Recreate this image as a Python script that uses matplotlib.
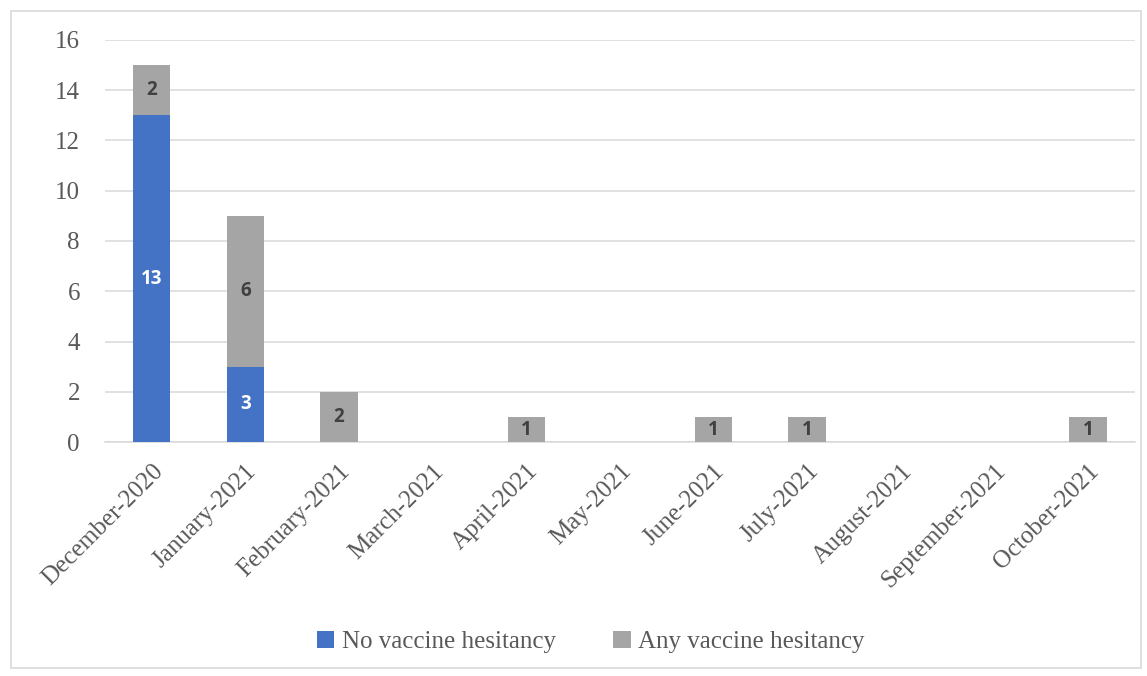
import matplotlib.pyplot as plt
from matplotlib.patches import Rectangle

months = ['December-2020', 'January-2021', 'February-2021', 'March-2021', 'April-2021',
          'May-2021', 'June-2021', 'July-2021', 'August-2021', 'September-2021', 'October-2021']
no_hesitancy = [13, 3, 0, 0, 0, 0, 0, 0, 0, 0, 0]
any_hesitancy = [2, 6, 2, 0, 1, 0, 1, 1, 0, 0, 1]

blue = '#4472C4'
gray = '#A5A5A5'
txt = '#595959'
grid = '#D9D9D9'

fig = plt.figure(figsize=(11.47, 6.76), dpi=100)
ax = fig.add_axes([0.0915, 0.346, 0.898, 0.595])

x = list(range(len(months)))
b1 = ax.bar(x, no_hesitancy, width=0.4, color=blue, label='No vaccine hesitancy', zorder=3)
b2 = ax.bar(x, any_hesitancy, width=0.4, bottom=no_hesitancy, color=gray,
            label='Any vaccine hesitancy', zorder=3)

# data labels, skip zeros
for i in x:
    if no_hesitancy[i]:
        ax.text(i, no_hesitancy[i] / 2, str(no_hesitancy[i]), ha='center', va='center',
                color='white', fontsize=13.5, fontweight='bold', family='Open Sans', zorder=4)
    if any_hesitancy[i]:
        ax.text(i, no_hesitancy[i] + any_hesitancy[i] / 2, str(any_hesitancy[i]),
                ha='center', va='center', color='#404040', fontsize=13.5,
                fontweight='bold', family='Open Sans', zorder=4)

ax.set_xlim(-0.5, len(months) - 0.5)
ax.set_ylim(0, 16)
ax.set_yticks(range(0, 17, 2))
ax.yaxis.grid(True, color=grid, linewidth=1.1, zorder=0)
for s in ['top', 'right', 'left']:
    ax.spines[s].set_visible(False)
ax.spines['bottom'].set_color(grid)
ax.spines['bottom'].set_linewidth(1.1)
ax.tick_params(axis='both', length=0, colors=txt, labelsize=18)
ax.tick_params(axis='y', pad=18)
ax.tick_params(axis='x', pad=13)
ax.set_xticks(x)
ax.set_xticklabels(months, rotation=45, ha='right', rotation_mode='anchor',
                   family='Liberation Serif', fontsize=18)
for lab in ax.get_yticklabels():
    lab.set_family('Liberation Serif')

leg = fig.legend(handles=[b1, b2], loc='center', bbox_to_anchor=(0.515, 0.05), ncol=2,
                 frameon=False, prop={'family': 'Liberation Serif', 'size': 18},
                 handlelength=0.7, handleheight=0.7, handletextpad=0.3, columnspacing=2.3)
for t in leg.get_texts():
    t.set_color(txt)

fig.patches.append(Rectangle((0.0096, 0.012), 0.985, 0.972, transform=fig.transFigure,
                             fill=False, edgecolor=grid, linewidth=1.2))

fig.savefig('out.png', dpi=100)
